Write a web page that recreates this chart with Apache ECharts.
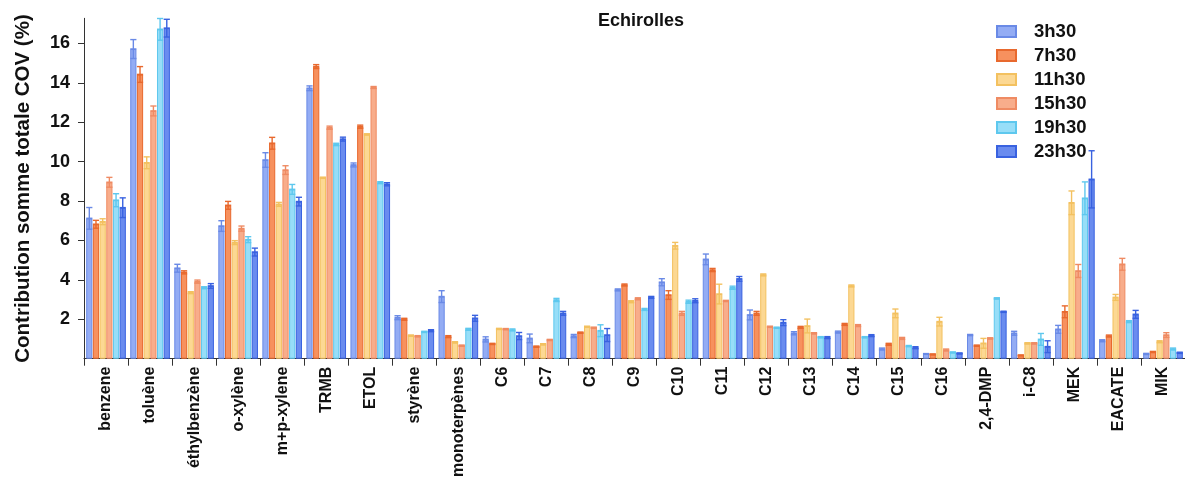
<!DOCTYPE html>
<html>
<head>
<meta charset="utf-8">
<script src="https://cdn.jsdelivr.net/npm/echarts@6/dist/echarts.min.js"></script>
<style>html,body{margin:0;padding:0;background:#fff;}#c{width:1185px;height:486px;}</style>
</head>
<body>
<div id="c"></div>
<script>
const categories = ['benzene','toluène','éthylbenzène','o-xylène','m+p-xylene','TRMB','ETOL','styrène','monoterpènes','C6','C7','C8','C9','C10','C11','C12','C13','C14','C15','C16','2,4-DMP','i-C8','MEK','EACATE','MIK'];
const seriesNames = ['3h30','7h30','11h30','15h30','19h30','23h30'];
const yTicks = [2,4,6,8,10,12,14,16];

const v3h30  = [7.12,15.71,4.59,6.73,10.08,13.72,9.83,2.08,3.15,0.98,1.03,1.15,3.49,3.88,5.04,2.22,1.29,1.35,0.49,0.24,1.20,1.29,1.49,0.91,0.24];
const e3h30  = [0.55,0.48,0.20,0.27,0.37,0.12,0.10,0.10,0.30,0.13,0.22,0.08,0.05,0.18,0.27,0.25,0.08,0.05,0.05,0.02,0.03,0.10,0.20,0.05,0.03];
const v7h30  = [6.82,14.42,4.38,7.78,10.93,14.82,11.77,2.00,1.12,0.75,0.61,1.32,3.74,3.23,4.50,2.30,1.59,1.74,0.73,0.22,0.66,0.17,2.38,1.15,0.34];
const e7h30  = [0.20,0.40,0.08,0.20,0.30,0.10,0.08,0.05,0.05,0.03,0.03,0.03,0.05,0.22,0.08,0.10,0.05,0.05,0.05,0.02,0.03,0.02,0.30,0.05,0.03];
const v11h30 = [6.95,9.94,3.35,5.89,7.83,9.18,11.38,1.17,0.83,1.51,0.73,1.62,2.89,5.73,3.28,4.25,1.66,3.69,2.30,1.88,0.78,0.78,7.91,3.11,0.86];
const e11h30 = [0.15,0.30,0.05,0.10,0.10,0.03,0.03,0.03,0.03,0.03,0.03,0.03,0.05,0.17,0.50,0.05,0.35,0.05,0.22,0.22,0.25,0.03,0.60,0.15,0.05];
const v15h30 = [8.95,12.57,3.91,6.60,9.57,11.72,13.76,1.14,0.66,1.50,0.95,1.57,3.04,2.30,2.93,1.62,1.29,1.68,1.03,0.44,1.03,0.78,4.45,4.79,1.20];
const e15h30 = [0.25,0.25,0.08,0.13,0.22,0.08,0.05,0.03,0.03,0.03,0.03,0.03,0.05,0.10,0.03,0.03,0.03,0.05,0.05,0.05,0.03,0.03,0.33,0.30,0.12];
const v19h30 = [8.04,16.71,3.60,6.04,8.59,10.87,8.93,1.36,1.49,1.46,2.98,1.42,2.50,2.89,3.60,1.57,1.09,1.09,0.64,0.32,3.06,0.98,8.14,1.88,0.49];
const e19h30 = [0.33,0.55,0.05,0.15,0.25,0.06,0.05,0.03,0.05,0.05,0.08,0.30,0.05,0.08,0.08,0.03,0.03,0.03,0.03,0.02,0.03,0.30,0.83,0.05,0.05];
const v23h30 = [7.66,16.77,3.69,5.41,7.97,11.14,8.85,1.42,2.05,1.15,2.30,1.20,3.11,2.94,4.05,1.83,1.07,1.17,0.56,0.27,2.38,0.61,9.10,2.25,0.30];
const e23h30 = [0.50,0.45,0.12,0.20,0.22,0.10,0.08,0.05,0.15,0.18,0.10,0.33,0.05,0.10,0.12,0.15,0.05,0.05,0.05,0.02,0.03,0.30,1.45,0.20,0.03];

const values = [v3h30, v7h30, v11h30, v15h30, v19h30, v23h30];
const errors = [e3h30, e7h30, e11h30, e15h30, e19h30, e23h30];
const fills   = ['#93acf4','#f7915e','#fcd893','#f8ad8b','#97def8','#6a8cef'];
const borders = ['#6a8ae6','#e8692e','#f3c160','#ef8b63','#5ec8ee','#3962e0'];

const FONT = '"Liberation Sans", Arial, sans-serif';
const CAT_GAP = 0.10, BAR_GAP = 0.08, N = 6;

const series = [];
seriesNames.forEach((name, s) => {
  series.push({
    name: name, type: 'bar',
    barCategoryGap: '10%', barGap: '8%',
    data: values[s],
    itemStyle: { color: fills[s], borderColor: borders[s], borderWidth: 1 },
    emphasis: { disabled: true }
  });
});
seriesNames.forEach((name, s) => {
  series.push({
    name: name, type: 'custom',
    data: values[s].map((v, i) => [i, v, errors[s][i]]),
    z: 5,
    renderItem: function (params, api) {
      const i = api.value(0), v = api.value(1), e = api.value(2);
      const band = api.size([1, 0])[0];
      const usable = band * (1 - CAT_GAP);
      const w = usable / (N + (N - 1) * BAR_GAP);
      const center = api.coord([i, v]);
      const x = center[0] - usable / 2 + w / 2 + s * w * (1 + BAR_GAP);
      const top = api.coord([i, v + e])[1];
      const bot = api.coord([i, v - e])[1];
      const half = w / 2;
      const st = { stroke: borders[s], lineWidth: 1.4, fill: null };
      return { type: 'group', children: [
        { type: 'line', shape: { x1: x, y1: top, x2: x, y2: bot }, style: st },
        { type: 'line', shape: { x1: x - half, y1: top, x2: x + half, y2: top }, style: st },
        { type: 'line', shape: { x1: x - half, y1: bot, x2: x + half, y2: bot }, style: st },
        { type: 'line', shape: { x1: x - half, y1: center[1], x2: x + half, y2: center[1] }, style: { stroke: borders[s], lineWidth: 1.6 } }
      ]};
    }
  });
});

const chart = echarts.init(document.getElementById('c'), null, { renderer: 'canvas' });
chart.setOption({
  animation: false,
  backgroundColor: '#fff',
  title: {
    text: 'Echirolles', left: 598, top: 12, padding: 0,
    textStyle: { fontFamily: FONT, fontSize: 18, fontWeight: 'bold', color: '#111' }
  },
  legend: {
    data: seriesNames, orient: 'vertical', left: 996, top: 22,
    itemWidth: 19, itemHeight: 11, itemGap: 5, padding: 0,
    icon: 'rect',
    textStyle: { fontFamily: FONT, fontSize: 18.5, fontWeight: 'bold', color: '#111', lineHeight: 19, padding: [0, 0, 0, 13] }
  },
  grid: { left: 84, top: 18.3, width: 1102, height: 340.4, containLabel: false },
  xAxis: {
    type: 'category', data: categories,
    axisLine: { show: true, lineStyle: { color: '#333', width: 1 } },
    axisTick: { show: true, length: 7, alignWithLabel: false, lineStyle: { color: '#333' } },
    axisLabel: { rotate: 90, margin: 8, interval: 0, fontFamily: FONT, fontSize: 16, fontWeight: 'bold', color: '#111' }
  },
  yAxis: {
    type: 'value', min: 0, max: 17.27, interval: 2,
    name: 'Contribution somme totale COV (%)', nameLocation: 'middle', nameGap: 50,
    nameTextStyle: { fontFamily: FONT, fontSize: 20.5, fontWeight: 'bold', color: '#111' },
    axisLine: { show: true, lineStyle: { color: '#333', width: 1 } },
    axisTick: { show: true, length: 6, customValues: yTicks, lineStyle: { color: '#333' } },
    axisLabel: { customValues: yTicks, margin: 14, fontFamily: FONT, fontSize: 18, fontWeight: 'bold', color: '#111' },
    splitLine: { show: false }
  },
  series: series
});
</script>
</body>
</html>
